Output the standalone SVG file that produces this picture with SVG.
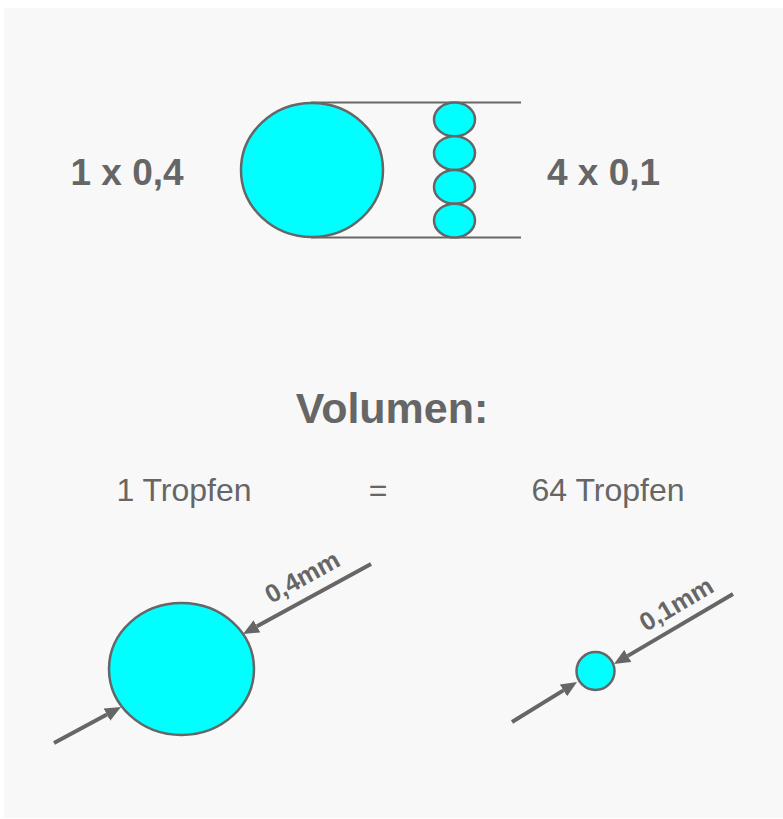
<svg xmlns="http://www.w3.org/2000/svg" width="783" height="819" viewBox="0 0 783 819">
  <style>
    .drop { fill: #00ffff; stroke: #666666; stroke-width: 2.5; }
    .guide { stroke: #666666; stroke-width: 2; fill: none; }
    .dim { stroke: #666666; stroke-width: 4; fill: none; marker-end: url(#head); }
    text { font-family: "Liberation Sans", Arial, sans-serif; fill: #666666; }
    .big { font-size: 37px; font-weight: bold; text-anchor: middle; }
    .title { font-size: 43px; font-weight: bold; text-anchor: middle; }
    .plain { font-size: 32px; text-anchor: middle; }
    .size { font-size: 25.5px; font-weight: bold; }
  </style>
  <defs>
    <marker id="head" markerUnits="userSpaceOnUse" markerWidth="16" markerHeight="14" viewBox="0 -7 16 14" refX="0" refY="0" orient="auto">
      <path d="M0,-7 L16,0 L0,7 Z" fill="#666666"/>
    </marker>
  </defs>

  <!-- page background -->
  <rect x="4" y="8" width="779" height="810" fill="#f8f8f8"/>

  <!-- tangent lines enclosing the drops, and the diameter arrows -->
  <g id="connectors">
    <line class="guide" x1="311" y1="102.5" x2="521" y2="102.5"/>
    <line class="guide" x1="311" y1="237.5" x2="521" y2="237.5"/>
    <!-- large drop -->
    <line class="dim" x1="371" y1="564" x2="257" y2="626.3"/>
    <line class="dim" x1="54" y1="743" x2="106.9" y2="714.6"/>
    <!-- small drop -->
    <line class="dim" x1="733" y1="594" x2="627.8" y2="655.9"/>
    <line class="dim" x1="512" y1="722" x2="563.4" y2="690.4"/>
  </g>

  <g id="big-drop-top">
    <ellipse class="drop" cx="312" cy="170" rx="71" ry="67"/>
  </g>
  <g id="small-drops-top">
    <ellipse class="drop" cx="454.5" cy="119.4" rx="20.5" ry="16.9"/>
    <ellipse class="drop" cx="454.5" cy="153.1" rx="20.5" ry="16.9"/>
    <ellipse class="drop" cx="454.5" cy="186.9" rx="20.5" ry="16.9"/>
    <ellipse class="drop" cx="454.5" cy="220.6" rx="20.5" ry="16.9"/>
  </g>

  <g id="label-left"><text class="big" x="127" y="185">1 x 0,4</text></g>
  <g id="label-right"><text class="big" x="603.5" y="185">4 x 0,1</text></g>

  <g id="title"><text class="title" x="392" y="423">Volumen:</text></g>
  <g id="count-left"><text class="plain" x="184" y="501">1 Tropfen</text></g>
  <g id="equals"><text class="plain" x="378" y="501">=</text></g>
  <g id="count-right"><text class="plain" x="608" y="501">64 Tropfen</text></g>

  <g id="big-drop">
    <ellipse class="drop" cx="181.5" cy="669" rx="72.5" ry="66"/>
    <text class="size" transform="translate(271,604) rotate(-28.7)">0,4mm</text>
  </g>
  <g id="small-drop">
    <circle class="drop" cx="595.5" cy="671" r="19"/>
    <text class="size" transform="translate(646,632) rotate(-30.5)">0,1mm</text>
  </g>
</svg>
